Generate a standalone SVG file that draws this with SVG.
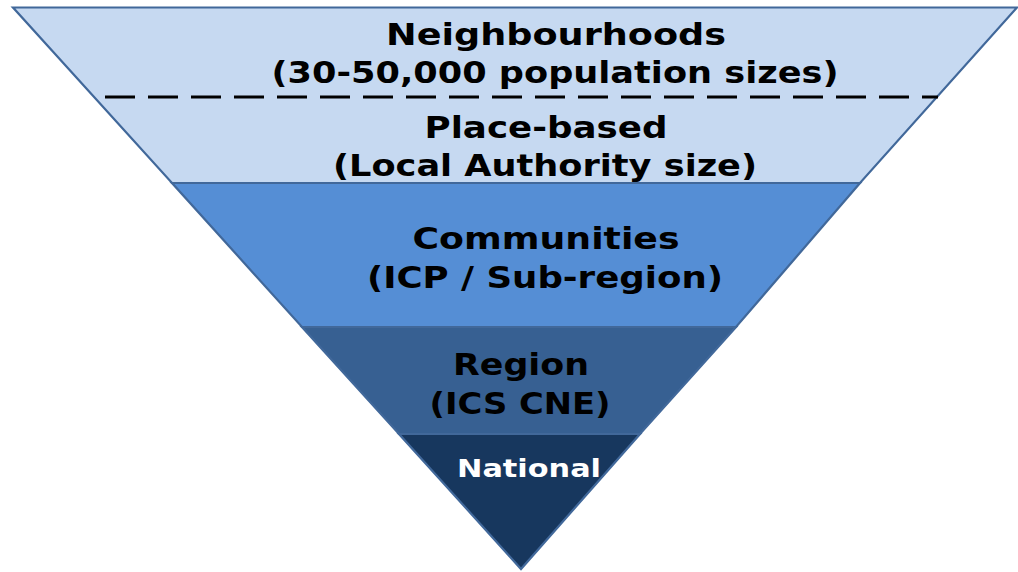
<svg xmlns="http://www.w3.org/2000/svg" width="1018" height="572" viewBox="0 0 1018 572">
  <style>
    .band { stroke: #41689A; stroke-width: 2.2; stroke-linejoin: miter; }
    .lbl { font-family: "DejaVu Sans", "Liberation Sans", sans-serif; font-weight: bold; font-size: 30px; fill: #000; text-anchor: middle; }
    .lbl-w { font-family: "DejaVu Sans", "Liberation Sans", sans-serif; font-weight: bold; font-size: 24px; fill: #fff; text-anchor: middle; }
  </style>
  <rect width="1018" height="572" fill="#fff"/>

  <!-- Inverted pyramid, one band per tier, top to bottom -->
  <g id="tier-local">
    <polygon class="band" fill="#C6D9F1" points="13,7.5 1017,7.5 860,183 172,183"/>
  </g>
  <g id="tier-communities">
    <polygon class="band" fill="#558ED5" points="172,183 860,183 736,327 302,327"/>
  </g>
  <g id="tier-region">
    <polygon class="band" fill="#376092" points="302,327 736,327 640,434 399,434"/>
  </g>
  <g id="tier-national">
    <polygon class="band" fill="#17375E" points="399,434 640,434 521,569"/>
  </g>

  <!-- Divider between neighbourhood and place-based scale -->
  <g id="connectors">
    <line x1="105" y1="97" x2="938" y2="97" stroke="#000" stroke-width="3" stroke-dasharray="30 13"/>
  </g>

  <g id="labels">
    <text class="lbl" x="556" y="45" textLength="340" lengthAdjust="spacingAndGlyphs">Neighbourhoods</text>
    <text class="lbl" x="555" y="83" textLength="567" lengthAdjust="spacingAndGlyphs">(30-50,000 population sizes)</text>
    <text class="lbl" x="546" y="138" textLength="243" lengthAdjust="spacingAndGlyphs">Place-based</text>
    <text class="lbl" x="545" y="176" textLength="424" lengthAdjust="spacingAndGlyphs">(Local Authority size)</text>
    <text class="lbl" x="546" y="249" textLength="267" lengthAdjust="spacingAndGlyphs">Communities</text>
    <text class="lbl" x="545" y="288" textLength="356" lengthAdjust="spacingAndGlyphs">(ICP / Sub-region)</text>
    <text class="lbl" x="521" y="375" textLength="136" lengthAdjust="spacingAndGlyphs">Region</text>
    <text class="lbl" x="520" y="414" textLength="181" lengthAdjust="spacingAndGlyphs">(ICS CNE)</text>
    <text class="lbl-w" x="529" y="477" textLength="144" lengthAdjust="spacingAndGlyphs">National</text>
  </g>
</svg>
